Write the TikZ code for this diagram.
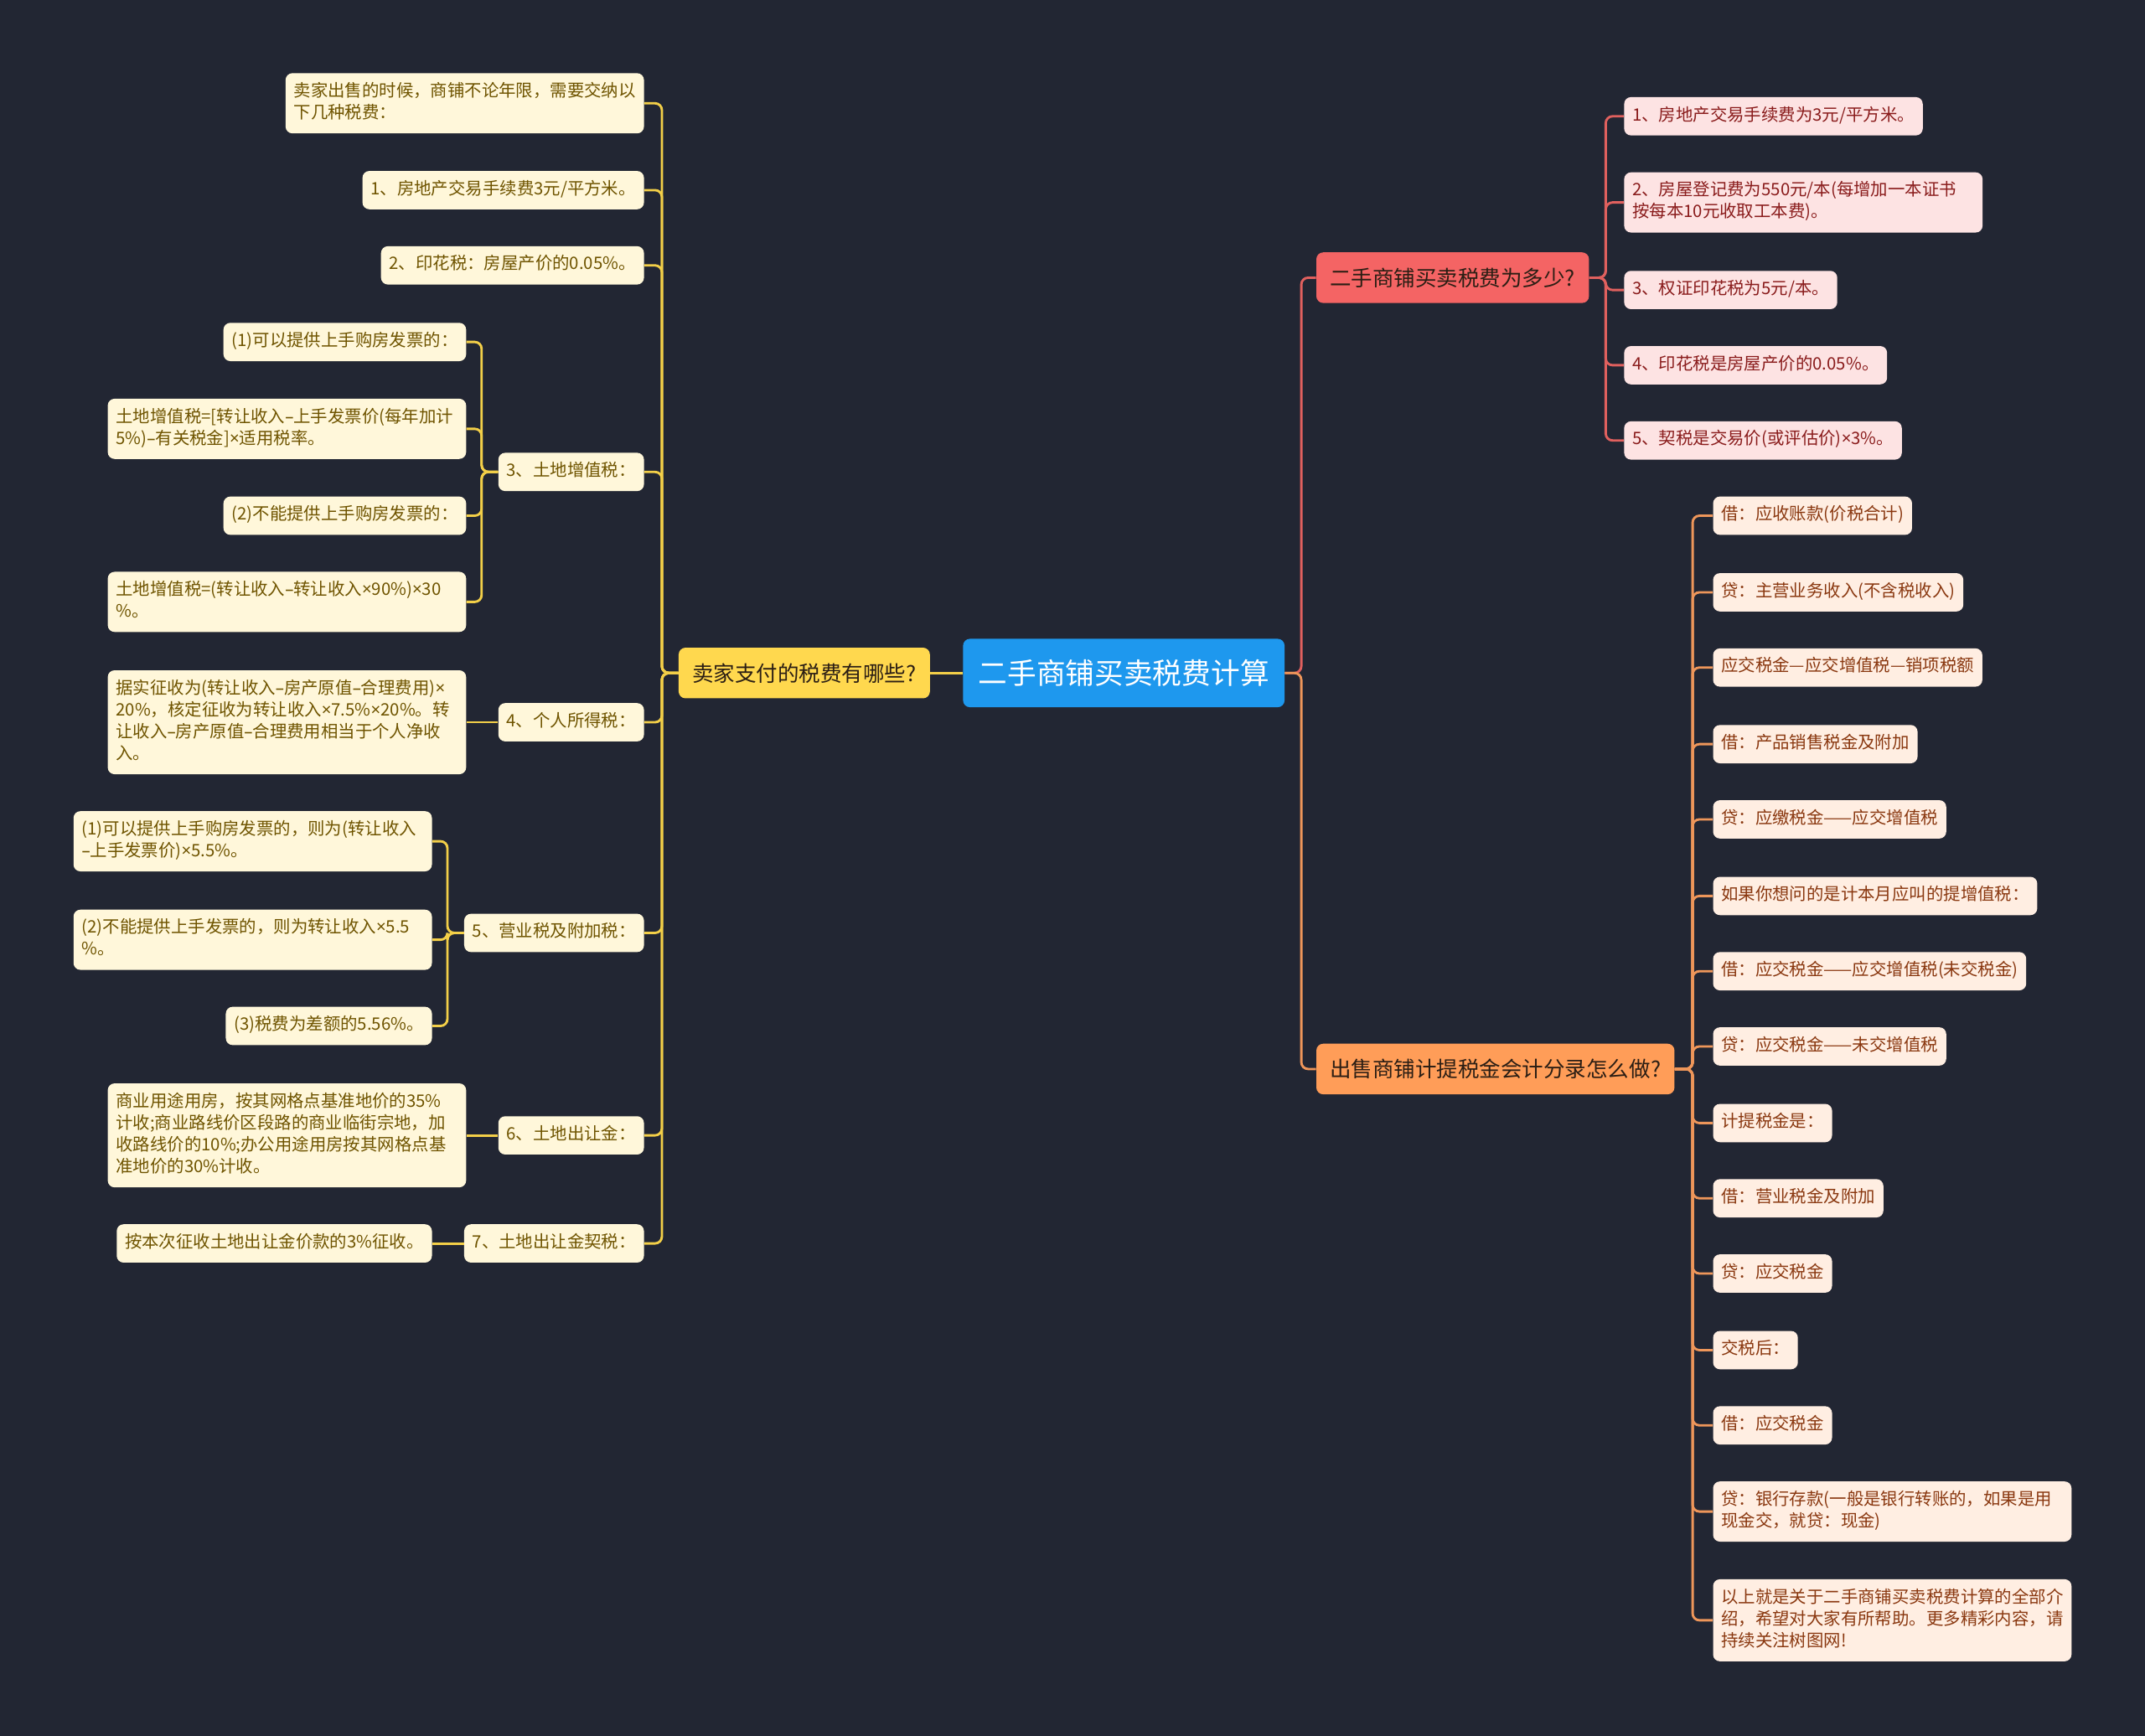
\documentclass[tikz,border=0pt]{standalone}
\usepackage{fontspec}
\setmainfont{Noto Sans CJK SC}
\newfontfamily\latinfont{Noto Sans}
\newcommand{\tms}{{\latinfont ×}}
\newcommand{\dsh}{{\latinfont –}}
\usetikzlibrary{positioning}
\definecolor{mbg}{HTML}{222633}
\definecolor{mroot}{HTML}{1E98EE}
\definecolor{mdark}{HTML}{2B1E14}
\definecolor{myellow}{HTML}{FFD84E}
\definecolor{mylight}{HTML}{FFF7DA}
\definecolor{mytext}{HTML}{6F5400}
\definecolor{myline}{HTML}{F3CF48}
\definecolor{mred}{HTML}{F46464}
\definecolor{mrlight}{HTML}{FDE3E3}
\definecolor{mrtext}{HTML}{8A1C1C}
\definecolor{mrline}{HTML}{E0605E}
\definecolor{morange}{HTML}{FF9D58}
\definecolor{molight}{HTML}{FFEEE2}
\definecolor{motext}{HTML}{8A3810}
\definecolor{moline}{HTML}{EE965A}
\tikzset{
  rootbox/.style={fill=mroot, text=white, rounded corners=4pt,
                  font=\fontsize{17pt}{20pt}\selectfont, inner xsep=9pt, minimum height=40pt},
  mainbox/.style={text=mdark, rounded corners=4pt,
                  font=\fontsize{12.5pt}{15pt}\selectfont, inner xsep=8pt, minimum height=29.6pt},
  leaf/.style={rounded corners=4pt, font=\fontsize{10pt}{12.8pt}\selectfont,
               inner xsep=4.8pt, inner ysep=4.8pt, align=left,
               execute at begin node=\strut, execute at end node=\strut},
  ybox/.style={leaf, fill=mylight, text=mytext},
  rbox/.style={leaf, fill=mrlight, text=mrtext},
  obox/.style={leaf, fill=molight, text=motext},
  wide/.style={text width=200pt},
  link/.style={line width=1.4pt, rounded corners=4pt},
  ylink/.style={link, myline},
  rlink/.style={link, mrline},
  olink/.style={link, moline},
}
\begin{document}
\begin{tikzpicture}[x=0.8pt, y=-0.8pt]
  \fill[mbg] (0,0) rectangle (1568,1269);

  % root
  \node[rootbox] (root) at (821.5,492) {二手商铺买卖税费计算};

  % seller side
  \node[mainbox, fill=myellow, anchor=east] (sell) at (680,492) {卖家支付的税费有哪些?};
  \node[ybox, wide, anchor=east] (s0) at (471,75.5) {卖家出售的时候，商铺不论年限，需要交纳以\\下几种税费：};
  \node[ybox, anchor=east] (s1) at (471,139) {1、房地产交易手续费3元/平方米。};
  \node[ybox, anchor=east] (s2) at (471,194) {2、印花税：房屋产价的0.05\%。};
  \node[ybox, anchor=east] (s3) at (471,345) {3、土地增值税：};
  \node[ybox, anchor=east] (s4) at (471,528) {4、个人所得税：};
  \node[ybox, anchor=east] (s5) at (471,682) {5、营业税及附加税：};
  \node[ybox, anchor=east] (s6) at (471,830) {6、土地出让金：};
  \node[ybox, anchor=east] (s7) at (471,909) {7、土地出让金契税：};

  \node[ybox, anchor=east] (s3a) at (341,250) {(1)可以提供上手购房发票的：};
  \node[ybox, wide, anchor=east] (s3b) at (341,313.5) {土地增值税=[转让收入\dsh 上手发票价(每年加计\\5\%)\dsh 有关税金]\tms 适用税率。};
  \node[ybox, anchor=east] (s3c) at (341,377) {(2)不能提供上手购房发票的：};
  \node[ybox, wide, anchor=east] (s3d) at (341,440) {土地增值税=(转让收入\dsh 转让收入\tms 90\%)\tms 30\\\%。};
  \node[ybox, wide, anchor=east] (s4a) at (341,528) {据实征收为(转让收入\dsh 房产原值\dsh 合理费用)\tms\\20\%，核定征收为转让收入\tms 7.5\%\tms 20\%。转\\让收入\dsh 房产原值\dsh 合理费用相当于个人净收\\入。};
  \node[ybox, wide, anchor=east] (s5a) at (316,615) {(1)可以提供上手购房发票的，则为(转让收入\\\dsh 上手发票价)\tms 5.5\%。};
  \node[ybox, wide, anchor=east] (s5b) at (316,687) {(2)不能提供上手发票的，则为转让收入\tms 5.5\\\%。};
  \node[ybox, anchor=east] (s5c) at (316,750) {(3)税费为差额的5.56\%。};
  \node[ybox, wide, anchor=east] (s6a) at (341,830) {商业用途用房，按其网格点基准地价的35\%\\计收;商业路线价区段路的商业临街宗地，加\\收路线价的10\%;办公用途用房按其网格点基\\准地价的30\%计收。};
  \node[ybox, anchor=east] (s7a) at (316,909) {按本次征收土地出让金价款的3\%征收。};

  \draw[ylink] (root.west) -- (sell.east);
  \foreach \i in {0,...,7}{
    \draw[ylink] (sell.west) -- ++(-12,0) |- (s\i.east);
  }
  \foreach \c in {a,b,c,d}{
    \draw[ylink] (s3.west) -- ++(-12,0) |- (s3\c.east);
  }
  \foreach \c in {a,b,c}{
    \draw[ylink] (s5.west) -- ++(-12,0) |- (s5\c.east);
  }
  \draw[ylink] (s4.west) -- (s4a.east);
  \draw[ylink] (s6.west) -- (s6a.east);
  \draw[ylink] (s7.west) -- (s7a.east);

  % how much
  \node[mainbox, fill=mred, anchor=west] (cost) at (962,203) {二手商铺买卖税费为多少?};
  \node[rbox, anchor=west] (c1) at (1187,85) {1、房地产交易手续费为3元/平方米。};
  \node[rbox, wide, anchor=west] (c2) at (1187,148) {2、房屋登记费为550元/本(每增加一本证书\\按每本10元收取工本费)。};
  \node[rbox, anchor=west] (c3) at (1187,212) {3、权证印花税为5元/本。};
  \node[rbox, anchor=west] (c4) at (1187,267) {4、印花税是房屋产价的0.05\%。};
  \node[rbox, anchor=west] (c5) at (1187,322) {5、契税是交易价(或评估价)\tms 3\%。};

  \draw[rlink] (root.east) -- ++(12,0) |- (cost.west);
  \foreach \i in {1,...,5}{
    \draw[rlink] (cost.east) -- ++(12,0) |- (c\i.west);
  }

  % bookkeeping
  \node[mainbox, fill=morange, anchor=west] (book) at (962,781.5) {出售商铺计提税金会计分录怎么做?};
  \foreach \i/\y/\t in {1/377/{借：应收账款(价税合计)},
                        2/433/{贷：主营业务收入(不含税收入)},
                        3/488/{应交税金—应交增值税—销项税额},
                        4/544/{借：产品销售税金及附加},
                        5/599/{贷：应缴税金——应交增值税},
                        6/655/{如果你想问的是计本月应叫的提增值税：},
                        7/710/{借：应交税金——应交增值税(未交税金)},
                        8/765/{贷：应交税金——未交增值税},
                        9/821/{计提税金是：},
                        10/876/{借：营业税金及附加},
                        11/931/{贷：应交税金},
                        12/987/{交税后：},
                        13/1042/{借：应交税金}}{
    \node[obox, anchor=west] (b\i) at (1252,\y) {\t};
  }
  \node[obox, wide, anchor=west] (b14) at (1252,1105) {贷：银行存款(一般是银行转账的，如果是用\\现金交，就贷：现金)};
  \node[obox, wide, anchor=west] (b15) at (1252,1184.5) {以上就是关于二手商铺买卖税费计算的全部介\\绍，希望对大家有所帮助。更多精彩内容，请\\持续关注树图网!};

  \draw[olink] (root.east) -- ++(12,0) |- (book.west);
  \foreach \i in {1,...,15}{
    \draw[olink] (book.east) -- ++(13,0) |- (b\i.west);
  }
\end{tikzpicture}
\end{document}
